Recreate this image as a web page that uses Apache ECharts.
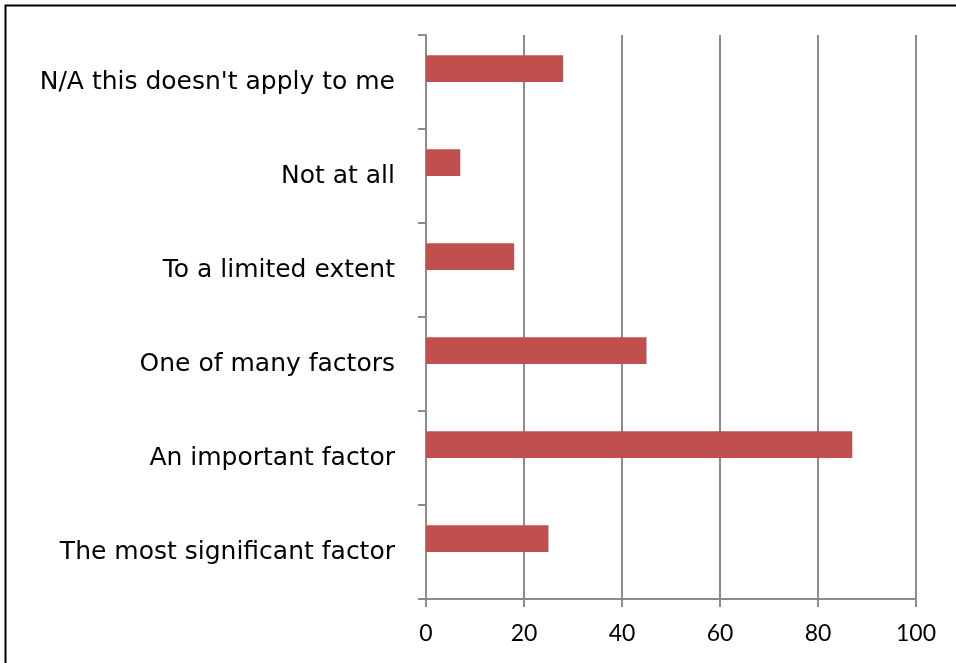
<!DOCTYPE html>
<html>
<head>
<meta charset="utf-8">
<style>
  html, body { margin: 0; padding: 0; background: #fff; }
  #chart { width: 956px; height: 663px; }
</style>
<script src="https://cdn.jsdelivr.net/npm/echarts@6/dist/echarts.min.js"></script>
</head>
<body>
<div id="chart"></div>
<script>
// Survey answers, listed bottom to top
const categories = [
  "The most significant factor",
  "An important factor",
  "One of many factors",
  "To a limited extent",
  "Not at all",
  "N/A this doesn't apply to me"
];
const responses = [25, 87, 45, 18, 7, 28];
const emptySlot = [null, null, null, null, null, null];
const xTicks = [0, 20, 40, 60, 80, 100];

const chart = echarts.init(document.getElementById('chart'), null, { renderer: 'canvas' });
const axisGray = '#8c8c8c';

chart.setOption({
  animation: false,
  backgroundColor: '#ffffff',
  graphic: [{
    type: 'rect',
    shape: { x: 5.5, y: 5.5, width: 1000, height: 1000 },
    style: { fill: 'none', stroke: '#000', lineWidth: 2 },
    silent: true
  }],
  grid: { left: 426, right: 40, top: 35, bottom: 64, containLabel: false },
  xAxis: {
    type: 'value',
    min: xTicks[0],
    max: xTicks[xTicks.length - 1],
    interval: xTicks[1] - xTicks[0],
    axisLine: { show: true, lineStyle: { color: axisGray, width: 2 } },
    axisTick: { show: true, length: 8, lineStyle: { color: axisGray, width: 2 } },
    splitLine: { show: true, lineStyle: { color: axisGray, width: 2 } },
    axisLabel: {
      margin: 23,
      color: '#000',
      fontFamily: 'Lato',
      fontSize: 23
    }
  },
  yAxis: {
    type: 'category',
    data: categories,
    axisLine: { show: true, lineStyle: { color: axisGray, width: 2 } },
    axisTick: { show: true, length: 8, lineStyle: { color: axisGray, width: 2 } },
    splitLine: { show: false },
    axisLabel: {
      margin: 31,
      color: '#000',
      fontFamily: 'DejaVu Sans',
      fontSize: 25,
      padding: [0, 0, 6, 0]
    }
  },
  series: [
    {
      type: 'bar',
      data: responses,
      itemStyle: { color: '#C0504D' },
      barGap: '0%',
      barCategoryGap: '43%'
    },
    {
      type: 'bar',
      data: emptySlot,
      barGap: '0%',
      barCategoryGap: '43%'
    }
  ]
});
</script>
</body>
</html>
